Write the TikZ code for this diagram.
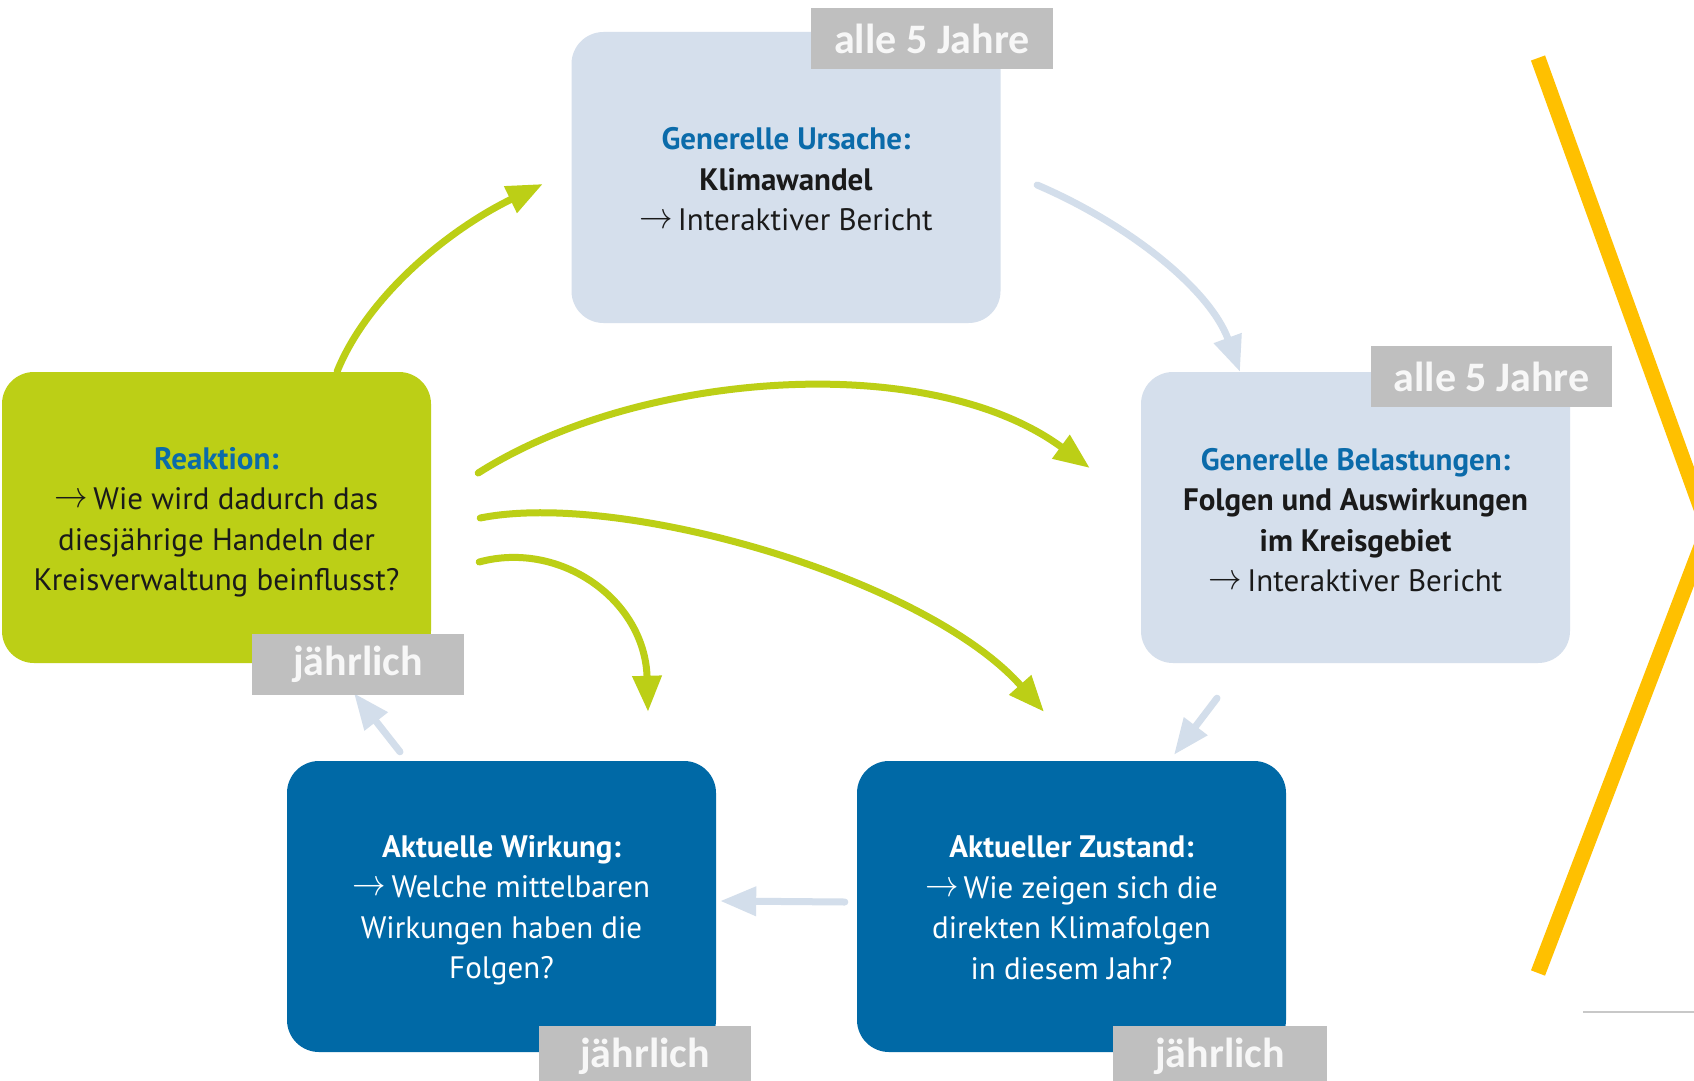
\RequirePackage{fix-cm}
\documentclass[tikz,border=0pt]{standalone}
\usepackage{fontspec}
\usepackage{graphicx}
\setmainfont{PT Sans}
\newfontfamily\tagfont{Carlito}
\usetikzlibrary{arrows.meta,calc}
\definecolor{lgreen}{HTML}{BCCF16}
\definecolor{lbox}{HTML}{D5DFEC}
\definecolor{larr}{HTML}{D3DEEB}
\definecolor{dblue}{HTML}{0069A6}
\definecolor{tblue}{HTML}{0B6BAA}
\definecolor{tagfill}{HTML}{BFBFBF}
\definecolor{tagtext}{HTML}{F7F7F7}
\definecolor{txtdark}{HTML}{1A1A1A}
\definecolor{chev}{HTML}{FFC000}
\definecolor{thinline}{HTML}{C8C8C8}
\newcommand{\rarr}{\raisebox{2pt}{\scalebox{1.08}[1.2]{$\rightarrow$}}\,}
\begin{document}
\begin{tikzpicture}[x=1pt,y=-1pt,
  box/.style={rectangle, rounded corners=32pt, minimum width=429pt, minimum height=291pt,
    inner sep=0pt},
  lightbox/.style={box, fill=lbox},
  greenbox/.style={box, fill=lgreen},
  bluebox/.style={box, fill=dblue},
  boxtext/.style={align=center, inner sep=0pt, font=\fontsize{31}{40.5}\selectfont},
  darktext/.style={boxtext, text=txtdark},
  whitetext/.style={boxtext, text=white},
  tagbox/.style={rectangle, fill=tagfill, text=tagtext, minimum height=61pt, inner sep=0pt,
    font=\tagfont\bfseries\fontsize{42}{42}\selectfont},
  garrow/.style={draw=lgreen, line width=7pt, line cap=round, -{Triangle[length=36pt,width=28pt]}},
  larrow/.style={draw=larr, line width=7pt, line cap=round, -{Triangle[length=36pt,width=28pt]}}
]
\useasboundingbox (0,0) rectangle (1694,1081);
\clip (0,0) rectangle (1694,1081);
\fill[white] (0,0) rectangle (1694,1081);

% boxes
\node[lightbox] (U) at (786,177.5) {};
\node[lightbox] (B) at (1355.5,517.5) {};
\node[greenbox] (R) at (216.5,517.5) {};
\node[bluebox] (W) at (501.5,906.5) {};
\node[bluebox] (Z) at (1071.5,906.5) {};

% box texts
\node[darktext] (Ut) at ($(U.center)+(0,2)$) {\textcolor{tblue}{\bfseries Generelle Ursache:}\\
  {\bfseries Klimawandel}\\ \rarr Interaktiver Bericht};
\node[darktext] (Bt) at ($(B.center)+(0,2.5)$) {\textcolor{tblue}{\bfseries Generelle Belastungen:}\\
  {\bfseries Folgen und Auswirkungen}\\ {\bfseries im Kreisgebiet}\\ \rarr Interaktiver Bericht};
\node[darktext] (Rt) at ($(R.center)+(0,5)$) {\textcolor{tblue}{\bfseries Reaktion:}\\
  \rarr Wie wird dadurch das\\ diesjährige Handeln der\\ Kreisverwaltung beinflusst?};
\node[whitetext] (Wt) at ($(W.center)+(0,4)$) {{\bfseries Aktuelle Wirkung:}\\
  \rarr Welche mittelbaren\\ Wirkungen haben die\\ Folgen?};
\node[whitetext] (Zt) at ($(Z.center)+(0,1)$) {{\bfseries Aktueller Zustand:}\\
  \rarr Wie zeigen sich die\\ direkten Klimafolgen\\ in diesem Jahr?};

% green arrows
\draw[garrow] ($(R.north)+(120.5,0)$) .. controls +(30,-75) and +(-95,46) .. ($(U.west)+(-28.5,6.5)$);
\draw[garrow] ($(R.east)+(47,-44.5)$) .. controls +(162,-103) and +(-160,-118) .. ($(B.west)+(-51,-49.5)$);
\draw[garrow] ($(R.east)+(49,0.5)$) .. controls +(140,-28) and +(-119,-134) .. ($(Z.north)+(-27.5,-49)$);
\draw[garrow] ($(R.east)+(48,44.5)$) .. controls +(81,-22) and +(-3,-112) .. ($(W.north)+(146.5,-49)$);

% light arrows
\draw[larrow] ($(U.east)+(36.5,7.5)$) .. controls +(93,40) and +(-30,-82) .. ($(B.north)+(-115.5,0)$);
\draw[larrow] ($(B.south)+(-138.5,35)$) -- ($(Z.north)+(102.5,-6)$);
\draw[larrow] ($(Z.west)+(-12,-4.5)$) -- ($(W.east)+(4,-5.5)$);
\draw[larrow] ($(W.north)+(-101.5,-9)$) -- ($(R.south)+(137.5,30)$);

% tags
\node[tagbox, minimum width=242pt] (t1) at (932,38.5) {alle 5 Jahre};
\node[tagbox, minimum width=241pt] (t2) at (1491.5,376.5) {alle 5 Jahre};
\node[tagbox, minimum width=212pt] (t3) at (358,664) {jährlich};
\node[tagbox, minimum width=212pt] (t4) at (645,1056.5) {jährlich};
\node[tagbox, minimum width=214pt] (t5) at (1220,1056.5) {jährlich};

% yellow chevron
\draw[chev, line width=15pt, line join=miter] (1538,58) -- (1708,528) -- (1538,973);
% thin line
\draw[thinline, line width=1.5pt] (1583,1012) -- (1694,1012);
\end{tikzpicture}
\end{document}
